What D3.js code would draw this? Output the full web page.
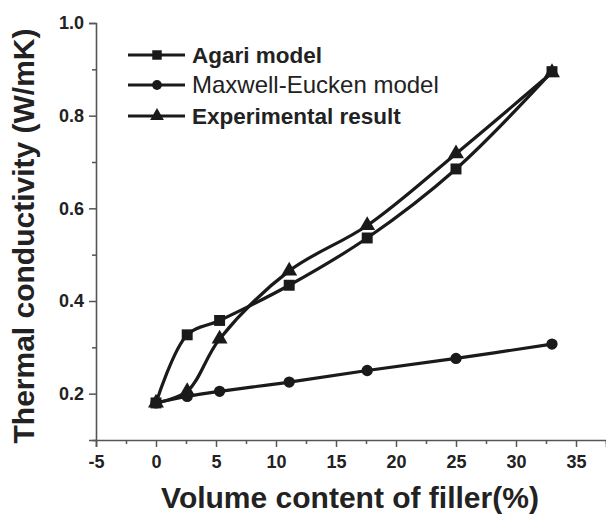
<!DOCTYPE html>
<html>
<head>
<meta charset="utf-8">
<script src="https://cdn.jsdelivr.net/npm/d3@7"></script>
<style>
  html, body { margin: 0; padding: 0; background: #fff; }
  svg { display: block; }
  text { font-family: "Liberation Sans", Arial, Helvetica, sans-serif; }
</style>
</head>
<body>
<svg id="chart" width="606" height="515"></svg>
<script>
// ---- data ----
const fillerContent = [0, 2.6, 5.3, 11.1, 17.6, 25.0, 33.0];
const agariModel = [0.18, 0.327, 0.358, 0.434, 0.536, 0.685, 0.895];
const maxwellEucken = [0.18, 0.194, 0.205, 0.225, 0.250, 0.276, 0.307];
const experimental = [0.18, 0.205, 0.318, 0.465, 0.563, 0.718, 0.893];
const seriesNames = ["Agari model", "Maxwell-Eucken model", "Experimental result"];
const xTickValues = [-5, 0, 5, 10, 15, 20, 25, 30, 35];
const xMinorTicks = [-2.5, 2.5, 7.5, 12.5, 17.5, 22.5, 27.5, 32.5, 37.5];
const yTickValues = [0.2, 0.4, 0.6, 0.8, 1.0];
const yMinorTicks = [0.1, 0.3, 0.5, 0.7, 0.9];
const xTitle = "Volume content of filler(%)";
const yTitle = "Thermal conductivity (W/mK)";

const svg = d3.select("#chart");
const x = d3.scaleLinear().domain([-5, 37.5]).range([96, 606]);
const y = d3.scaleLinear().domain([0.1, 1.0]).range([440, 23]);

const axisColor = "#555";
const textColor = "#222";

// x axis
const gx = svg.append("g").attr("transform", `translate(0,${y(0.1)})`);
gx.call(d3.axisBottom(x).tickValues(xTickValues).tickSize(7).tickPadding(8)
  .tickFormat(d => String(d)));
const gxm = svg.append("g").attr("transform", `translate(0,${y(0.1)})`);
gxm.call(d3.axisBottom(x).tickValues(xMinorTicks).tickSize(4).tickFormat(""));
gxm.select(".domain").remove();

// y axis
const gy = svg.append("g").attr("transform", `translate(${x(-5)},0)`);
gy.call(d3.axisLeft(y).tickValues(yTickValues).tickSize(7).tickPadding(5)
  .tickFormat(d => d.toFixed(1)));
const gym = svg.append("g").attr("transform", `translate(${x(-5)},0)`);
gym.call(d3.axisLeft(y).tickValues(yMinorTicks).tickSize(4).tickFormat(""));
gym.select(".domain").remove();

svg.selectAll(".domain").attr("stroke", axisColor).attr("stroke-width", 1.6);
svg.selectAll(".tick line").attr("stroke", axisColor).attr("stroke-width", 1.5);
svg.selectAll(".tick text")
  .attr("fill", textColor)
  .style("font-family", '"Liberation Sans", Arial, sans-serif')
  .style("font-weight", "bold")
  .style("font-size", "18px");

// axis titles
svg.append("text")
  .attr("x", 350).attr("y", 508)
  .attr("text-anchor", "middle")
  .attr("fill", textColor)
  .style("font-weight", "bold").style("font-size", "30px")
  .text(xTitle);
svg.append("text")
  .attr("transform", "translate(34,236) rotate(-90)")
  .attr("text-anchor", "middle")
  .attr("fill", textColor)
  .style("font-weight", "bold").style("font-size", "30px")
  .text(yTitle);

// series
const series = [
  { name: seriesNames[0], values: agariModel, marker: "square", bold: true },
  { name: seriesNames[1], values: maxwellEucken, marker: "circle", bold: false },
  { name: seriesNames[2], values: experimental, marker: "triangle", bold: true }
];
const lineColor = "#1a1a1a";
const line = d3.line()
  .x(d => x(d[0])).y(d => y(d[1]))
  .curve(d3.curveCatmullRom.alpha(0.5));

const symbolType = { square: d3.symbolSquare, circle: d3.symbolCircle, triangle: d3.symbolTriangle };
const symbolSize = { square: 120, circle: 100, triangle: 110 };

series.forEach(s => {
  const pts = fillerContent.map((v, i) => [v, s.values[i]]);
  svg.append("path").datum(pts)
    .attr("d", line)
    .attr("fill", "none").attr("stroke", lineColor)
    .attr("stroke-width", 3.2).attr("stroke-linejoin", "round");
});
series.forEach(s => {
  const pts = fillerContent.map((v, i) => [v, s.values[i]]);
  svg.append("g").selectAll("path").data(pts).join("path")
    .attr("transform", d => `translate(${x(d[0])},${y(d[1])})`)
    .attr("d", d3.symbol().type(symbolType[s.marker]).size(symbolSize[s.marker]))
    .attr("fill", lineColor);
});

// legend
const legend = svg.append("g");
const legendRowY = [55, 85, 116];
series.forEach((s, i) => {
  const cy = legendRowY[i];
  legend.append("line")
    .attr("x1", 128).attr("x2", 185).attr("y1", cy).attr("y2", cy)
    .attr("stroke", lineColor).attr("stroke-width", 3.2);
  legend.append("path")
    .attr("transform", `translate(157,${cy})`)
    .attr("d", d3.symbol().type(symbolType[s.marker]).size(symbolSize[s.marker] * 0.75))
    .attr("fill", lineColor);
  legend.append("text")
    .attr("x", 192).attr("y", cy + 8)
    .attr("fill", textColor)
    .style("font-weight", s.bold ? "bold" : "normal")
    .style("font-size", s.bold ? "22.5px" : "24px")
    .text(s.name);
});
</script>
</body>
</html>
